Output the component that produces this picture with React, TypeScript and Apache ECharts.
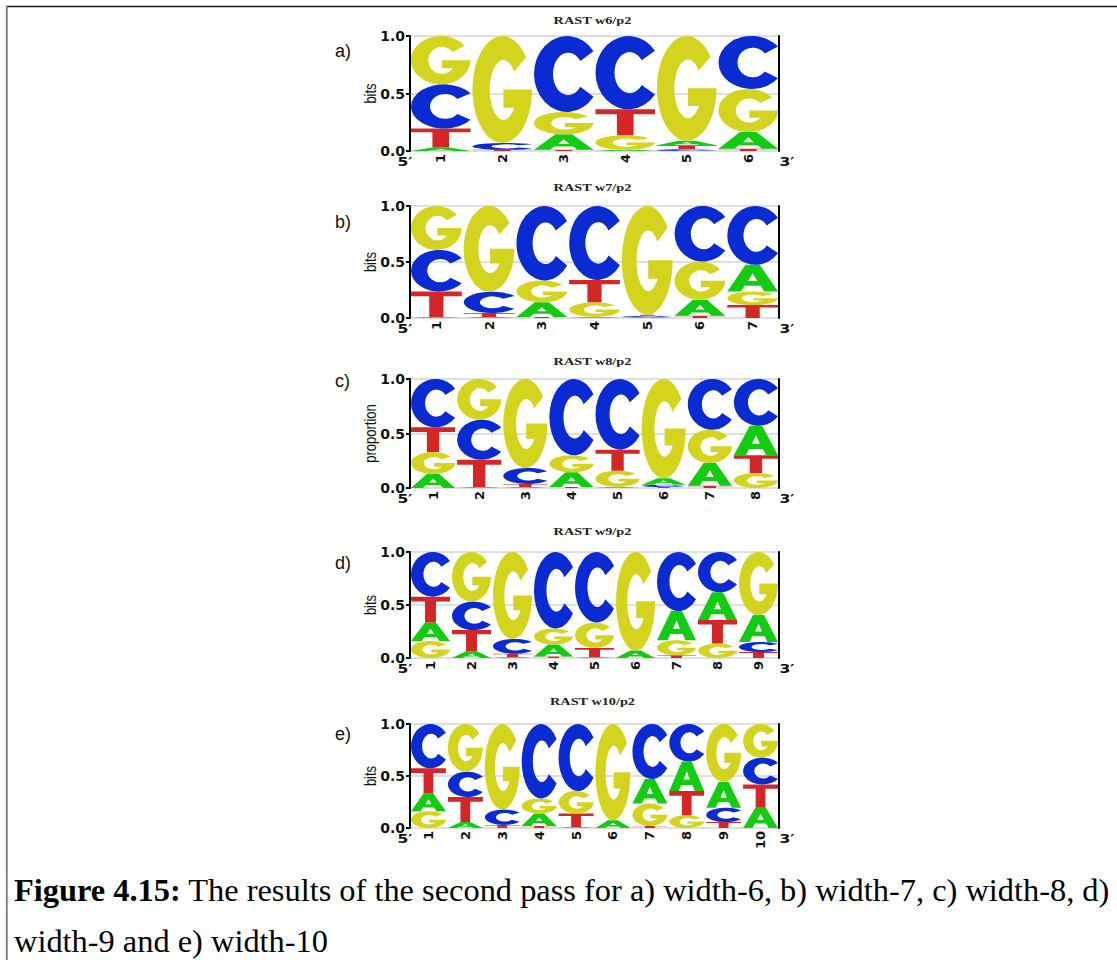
import React, { useEffect, useRef } from 'react';
import * as echarts from 'echarts';

// ---- Data: information (bits / proportion) per letter, per position ----
const LETTERS = ['A', 'C', 'G', 'T'];

const w6A = [0.03, 0, 0.135, 0.01, 0.04, 0.146];
const w6C = [0.385, 0.06, 0.66, 0.637, 0.015, 0.46];
const w6G = [0.42, 0.93, 0.195, 0.127, 0.91, 0.374];
const w6T = [0.165, 0.01, 0.01, 0.226, 0.035, 0.02];

const w7A = [0.01, 0.01, 0.13, 0.01, 0.01, 0.143, 0.238];
const w7C = [0.371, 0.19, 0.665, 0.66, 0.01, 0.496, 0.525];
const w7G = [0.392, 0.765, 0.195, 0.13, 0.97, 0.341, 0.122];
const w7T = [0.227, 0.035, 0.01, 0.2, 0.01, 0.02, 0.115];

const w8A = [0.128, 0.01, 0.01, 0.134, 0.01, 0.06, 0.21, 0.272];
const w8C = [0.443, 0.367, 0.146, 0.7, 0.648, 0.02, 0.465, 0.428];
const w8G = [0.202, 0.373, 0.817, 0.156, 0.149, 0.91, 0.305, 0.138];
const w8T = [0.227, 0.25, 0.027, 0.01, 0.193, 0.01, 0.02, 0.162];

const w9A = [0.175, 0.063, 0.01, 0.112, 0.01, 0.07, 0.275, 0.262, 0.253];
const w9C = [0.421, 0.269, 0.14, 0.722, 0.665, 0, 0.557, 0.38, 0.095];
const w9G = [0.16, 0.468, 0.82, 0.151, 0.24, 0.93, 0.143, 0.136, 0.595];
const w9T = [0.244, 0.2, 0.03, 0.015, 0.085, 0, 0.025, 0.222, 0.057];

const w10A = [0.171, 0.058, 0, 0.119, 0.01, 0.074, 0.236, 0.284, 0.251, 0.203];
const w10C = [0.426, 0.244, 0.147, 0.716, 0.645, 0, 0.529, 0.361, 0.136, 0.258];
const w10G = [0.161, 0.458, 0.823, 0.145, 0.216, 0.926, 0.215, 0.123, 0.555, 0.323];
const w10T = [0.242, 0.24, 0.03, 0.02, 0.129, 0, 0.02, 0.232, 0.058, 0.216];

const Y_TICKS = [0, 0.5, 1];

const TITLES = ['RAST w6/p2', 'RAST w7/p2', 'RAST w8/p2', 'RAST w9/p2', 'RAST w10/p2'];
const PANEL_LABELS = ['a)', 'b)', 'c)', 'd)', 'e)'];
const Y_NAMES = ['bits', 'bits', 'proportion', 'bits', 'bits'];
const CAPTION_BOLD = 'Figure 4.15:';
const CAPTION_LINE1 = ' The results of the second pass for a) width-6, b) width-7, c) width-8, d)';
const CAPTION_LINE2 = 'width-9 and e) width-10';

const PANEL_DATA = [
  [w6A, w6C, w6G, w6T],
  [w7A, w7C, w7G, w7T],
  [w8A, w8C, w8G, w8T],
  [w9A, w9C, w9G, w9T],
  [w10A, w10C, w10G, w10T],
];

// ---- Layout (page pixels) ----
const PANEL_TOP = [36, 206, 379, 552, 724];
const PANEL_BOTTOM = [151, 318, 488, 658, 828];
const TITLE_Y = [21, 188, 362, 532, 702];
const LABEL_Y = [51, 222, 381, 563, 734];
const GRID_LEFT = 410;
const GRID_WIDTH = 369;

const COLORS: Record<string, string> = {
  A: '#12cc12',
  C: '#0a2ad2',
  G: '#d4d41e',
  T: '#d42626',
};

const GLYPHS: Record<string, string> = {
  A: 'M0 100L36 0H64L100 100H73L66 79H34L27 100Z M41 61H59L50 32Z',
  C: 'M90 20A50 50 0 1 0 90 80L70 67A23 28 0 1 1 70 33Z',
  G: 'M90 20A50 50 0 1 0 100 50L52 50L52 67L70.5 67A23 28 0 1 1 70 33Z',
  T: 'M0 0H100V19H64V100H36V19H0Z',
};

function buildStack(cols: number[][]) {
  const n = cols[0].length;
  const out: number[][] = [];
  for (let c = 0; c < n; c++) {
    const items = LETTERS.map((_, li) => ({ li, h: cols[li][c] }))
      .filter((d) => d.h > 0)
      .sort((a, b) => a.h - b.h);
    let acc = 0;
    items.forEach((d) => {
      out.push([c, d.li, acc, acc + d.h]);
      acc += d.h;
    });
  }
  return out;
}

const renderItem = (params: any, api: any) => {
  const col = api.value(0);
  const li = api.value(1);
  const y0 = api.value(2);
  const y1 = api.value(3);
  const pBot = api.coord([col, y0]);
  const pTop = api.coord([col, y1]);
  const bw = api.size([1, 0])[0];
  const h = pBot[1] - pTop[1];
  if (!(h > 0.2)) return { type: 'group', children: [] };
  const letter = LETTERS[li];
  return {
    type: 'path',
    shape: {
      pathData: GLYPHS[letter],
      x: pBot[0] - bw / 2 + 1,
      y: pTop[1],
      width: bw - 2,
      height: h,
      layout: 'cover',
    },
    style: { fill: COLORS[letter] },
  };
};

function buildOption() {
  const grid: any[] = [];
  const xAxis: any[] = [];
  const yAxis: any[] = [];
  const series: any[] = [];
  const graphic: any[] = [];

  PANEL_DATA.forEach((cols, i) => {
    const n = cols[0].length;
    const top = PANEL_TOP[i];
    const bottom = PANEL_BOTTOM[i];
    grid.push({ left: GRID_LEFT, top, width: GRID_WIDTH, height: bottom - top });
    xAxis.push({
      type: 'category',
      gridIndex: i,
      data: Array.from({ length: n }, (_, k) => String(k + 1)),
      boundaryGap: true,
      axisLine: { show: false },
      axisTick: { show: false },
      splitLine: { show: false },
      axisLabel: {
        rotate: 90,
        fontSize: 13,
        fontWeight: 'bold',
        fontFamily: 'DejaVu Sans',
        color: '#111',
        margin: 3,
      },
    });
    yAxis.push({
      type: 'value',
      gridIndex: i,
      position: 'left',
      min: Y_TICKS[0],
      max: Y_TICKS[Y_TICKS.length - 1],
      interval: 0.5,
      axisLine: { show: true, lineStyle: { color: '#000', width: 2 } },
      axisTick: { show: true, length: 4, lineStyle: { color: '#000', width: 2 } },
      axisLabel: {
        formatter: (v: number) => v.toFixed(1),
        fontSize: 14,
        fontWeight: 'bold',
        fontFamily: 'DejaVu Sans',
        color: '#111',
        margin: 5,
      },
      splitLine: { show: true, lineStyle: { color: '#d4d4d4', width: 1.5 } },
    });
    yAxis.push({
      type: 'value',
      gridIndex: i,
      position: 'right',
      min: 0,
      max: 1,
      axisLine: { show: true, lineStyle: { color: '#000', width: 2 } },
      axisTick: { show: false },
      axisLabel: { show: false },
      splitLine: { show: false },
    });
    series.push({
      type: 'custom',
      xAxisIndex: i,
      yAxisIndex: 2 * i,
      data: buildStack(cols),
      renderItem,
      encode: { x: 0, y: [2, 3] },
      silent: true,
      clip: false,
    });

    graphic.push({
      type: 'text',
      x: GRID_LEFT + GRID_WIDTH / 2 - 2,
      y: TITLE_Y[i],
      scaleX: 1.36,
      style: {
        text: TITLES[i],
        fontSize: 10.5,
        fontWeight: 'bold',
        fontFamily: 'Liberation Serif',
        fill: '#222',
        align: 'center',
        verticalAlign: 'middle',
      },
    });
    graphic.push({
      type: 'text',
      x: 335,
      y: LABEL_Y[i],
      style: {
        text: PANEL_LABELS[i],
        fontSize: 18,
        fontFamily: 'Liberation Sans',
        fill: '#111',
        align: 'left',
        verticalAlign: 'middle',
      },
    });
    graphic.push({
      type: 'text',
      x: 371,
      y: (top + bottom) / 2,
      rotation: Math.PI / 2,
      scaleY: 1.2,
      style: {
        text: Y_NAMES[i],
        fontSize: 13,
        fontFamily: 'Liberation Sans',
        fill: '#111',
        align: 'center',
        verticalAlign: 'middle',
      },
    });
    graphic.push({
      type: 'text',
      x: 405,
      y: bottom + 11,
      scaleX: 1.3,
      style: {
        text: '5\u2032',
        fontSize: 12,
        fontWeight: 'bold',
        fontFamily: 'DejaVu Sans',
        fill: '#111',
        align: 'center',
        verticalAlign: 'middle',
      },
    });
    graphic.push({
      type: 'text',
      x: 787,
      y: bottom + 11,
      scaleX: 1.3,
      style: {
        text: '3\u2032',
        fontSize: 12,
        fontWeight: 'bold',
        fontFamily: 'DejaVu Sans',
        fill: '#111',
        align: 'center',
        verticalAlign: 'middle',
      },
    });
  });

  // frame lines
  graphic.push({
    type: 'line',
    shape: { x1: 6, y1: 6.5, x2: 1117, y2: 6.5 },
    style: { stroke: '#1a1a1a', lineWidth: 1.5 },
  });
  graphic.push({
    type: 'line',
    shape: { x1: 6.8, y1: 6, x2: 6.8, y2: 960 },
    style: { stroke: '#7a7a7a', lineWidth: 1.8 },
  });

  // caption
  graphic.push({
    type: 'text',
    x: 14,
    y: 890,
    style: {
      text: '{b|' + CAPTION_BOLD + '}' + CAPTION_LINE1,
      fontSize: 32.4,
      fontFamily: 'Liberation Serif',
      fill: '#000',
      align: 'left',
      verticalAlign: 'middle',
      rich: {
        b: { fontSize: 32.4, fontWeight: 'bold', fontFamily: 'Liberation Serif', fill: '#000' },
      },
    },
  });
  graphic.push({
    type: 'text',
    x: 14,
    y: 941,
    style: {
      text: CAPTION_LINE2,
      fontSize: 32.4,
      fontFamily: 'Liberation Serif',
      fill: '#000',
      align: 'left',
      verticalAlign: 'middle',
    },
  });

  return {
    animation: false,
    backgroundColor: '#ffffff',
    grid,
    xAxis,
    yAxis,
    series,
    graphic,
  };
}

export default function App() {
  const ref = useRef<HTMLDivElement>(null);
  useEffect(() => {
    const chart = echarts.init(ref.current as HTMLDivElement, null, { renderer: 'svg' });
    chart.setOption(buildOption() as any);
    return () => chart.dispose();
  }, []);
  return (
    <div
      ref={ref}
      style={{ position: 'absolute', left: 0, top: 0, width: 1117, height: 960, background: '#fff' }}
    />
  );
}
